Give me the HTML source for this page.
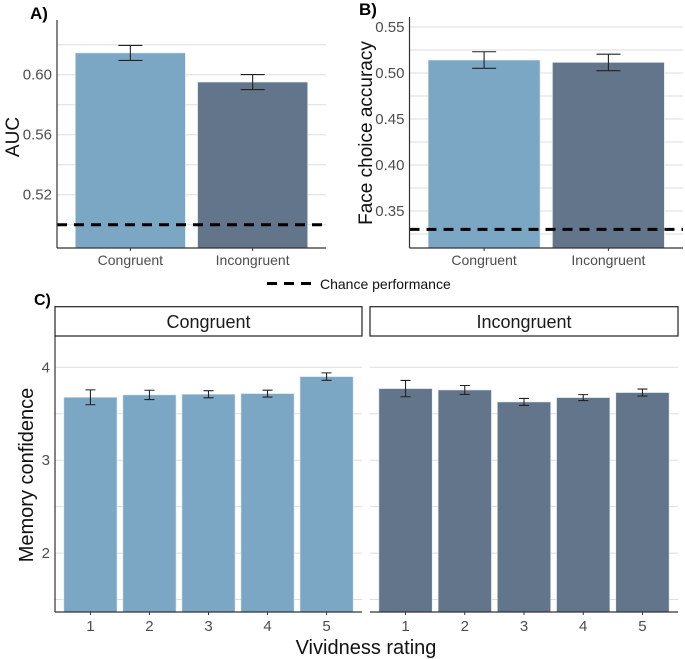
<!DOCTYPE html>
<html><head><meta charset="utf-8"><style>
body{margin:0;background:#fff;overflow:hidden;}
svg{display:block;font-family:"Liberation Sans",Arial,sans-serif;}
</style></head><body>
<svg id="fig" width="685" height="659"></svg>
<script>
// Panel A data
const aCats=["Congruent","Incongruent"];
const aVals=[0.6145,0.5951];
const aErr=[0.005,0.005];
const aTicks=[0.52,0.56,0.60];
const aChance=0.50;
// Panel B data
const bCats=["Congruent","Incongruent"];
const bVals=[0.5141,0.5115];
const bErr=[0.009,0.009];
const bTicks=[0.35,0.40,0.45,0.50,0.55];
const bChance=0.33;
// Panel C data
const cCats=["1","2","3","4","5"];
const cCongVals=[3.677,3.703,3.71,3.717,3.90];
const cCongErr=[0.08,0.05,0.038,0.037,0.04];
const cIncVals=[3.771,3.756,3.627,3.674,3.728];
const cIncErr=[0.088,0.048,0.038,0.032,0.038];
const cTicks=[2,3,4];

const NS="http://www.w3.org/2000/svg";
const svg=document.getElementById('fig');
const LB="#7ba7c4", DB="#63758a", GR="#dedede";
function el(t,a,p){const e=document.createElementNS(NS,t);for(const k in a)e.setAttribute(k,a[k]);(p||svg).appendChild(e);return e;}
function txt(s,a,p){const e=el('text',a,p);e.textContent=s;return e;}

function barPanel(o){
  const g=el('g',{});
  
  
  const y=v=>o.y0-(v-o.v0)*o.k;
  const n=o.cats.length, unit=(o.x1-o.xa)/(n+0.2);
  const xc=i=>o.xa+unit*(0.6+i);
  for(let v=o.minor0; v<=o.vmax+1e-9; v+=o.step){
    el('line',{x1:o.xa,x2:o.x1,y1:y(v),y2:y(v),stroke:GR,'stroke-width':1},g);
  }
  o.ticks.forEach(t=>{
    const tl=txt(t.toFixed(o.dec),{x:o.xa-5,y:y(t)+5,'text-anchor':'end','font-size':o.tfs||15,fill:'#4d4d4d'},g);
    
    
  });
  o.cats.forEach((c,i)=>{
    const w=unit*0.9, x=xc(i)-w/2, yt=y(o.vals[i]);
    const r=el('rect',{x:x,y:yt,width:w,height:o.yb-yt,fill:o.colors[i],stroke:'#dde8f0','stroke-width':0.6},g);
    
    
    const e1=y(o.vals[i]+o.err[i]), e2=y(o.vals[i]-o.err[i]), hw=o.cap;
    const eb=el('path',{d:`M${xc(i)-hw},${e1}H${xc(i)+hw}M${xc(i)},${e1}V${e2}M${xc(i)-hw},${e2}H${xc(i)+hw}`,stroke:'#222','stroke-width':1.1,fill:'none'},g);
    
    
    el('line',{x1:xc(i),x2:xc(i),y1:o.yb,y2:o.yb+3,stroke:'#333'},g);
    const xl=txt(c,{x:xc(i),y:o.yb+o.xoff,'text-anchor':'middle','font-size':o.xfs||14,fill:'#4d4d4d'},g);
    
    
  });
  if(o.chance!==undefined){
    const d=el('line',{x1:o.xa,x2:o.x1,y1:y(o.chance),y2:y(o.chance),stroke:'#000','stroke-width':3,'stroke-dasharray':'10 7'},g);
    
    
  }
  if(o.yaxis) el('line',{x1:o.xa,x2:o.xa,y1:o.ytop,y2:o.yb,stroke:'#333','stroke-width':1.2},g);
  el('line',{x1:o.xa,x2:o.x1,y1:o.yb,y2:o.yb,stroke:'#333','stroke-width':1.2},g);
  return g;
}
barPanel({name:'panel-a',cats:aCats,vals:aVals,err:aErr,ticks:aTicks,chance:aChance,colors:[LB,DB],
  xa:57,x1:326,ytop:20,yb:248,y0:74.7,v0:0.60,k:1500,minor0:0.50,step:0.02,vmax:0.63,
  dec:2,cap:12,xoff:17,yaxis:true});
barPanel({name:'panel-b',cats:bCats,vals:bVals,err:bErr,ticks:bTicks,chance:bChance,colors:[LB,DB],
  xa:409.5,x1:683,ytop:17,yb:248,y0:73,v0:0.50,k:920,minor0:0.325,step:0.025,vmax:0.556,
  dec:2,cap:12,xoff:17,yaxis:true});
barPanel({name:'panel-c-congruent',cats:cCats,vals:cCongVals,err:cCongErr,ticks:cTicks,colors:Array(5).fill(LB),
  xa:55,x1:362,ytop:336,yb:612,y0:367.3,v0:4,k:92.9,minor0:1.5,step:0.5,vmax:4.3,
  dec:0,cap:5,xoff:19,tfs:15,xfs:15,yaxis:true});
barPanel({name:'panel-c-incongruent',cats:cCats,vals:cIncVals,err:cIncErr,ticks:[],colors:Array(5).fill(DB),
  xa:370,x1:678,ytop:336,yb:612,y0:367.3,v0:4,k:92.9,minor0:1.5,step:0.5,vmax:4.3,
  dec:0,cap:5,xoff:19,tfs:15,xfs:15,yaxis:false});
</script>
<svg width="685" height="659" style="position:absolute;left:0;top:0" font-family="Liberation Sans, Arial, sans-serif">
  <text x="30" y="19" font-size="17" font-weight="bold">A)</text>
  <text x="359" y="15" font-size="17" font-weight="bold">B)</text>
  <text x="34" y="305" font-size="16" font-weight="bold">C)</text>
  <text transform="translate(19,137) rotate(-90)" text-anchor="middle" font-size="19" fill="#111">AUC</text>
  <text transform="translate(372,133) rotate(-90)" text-anchor="middle" font-size="19" fill="#111">Face choice accuracy</text>
  <text transform="translate(33,475) rotate(-90)" text-anchor="middle" font-size="20" fill="#111">Memory confidence</text>
  <text x="366" y="654" text-anchor="middle" font-size="20" fill="#111">Vividness rating</text>
  <g>
    <line x1="267" x2="311" y1="283.5" y2="283.5" stroke="#000" stroke-width="3" stroke-dasharray="10 7"/>
    <text x="320" y="289" font-size="14" fill="#111">Chance performance</text>
  </g>
  <g>
    <rect x="55" y="306.7" width="307" height="29.3" fill="#fff" stroke="#222" stroke-width="1.2"/>
    <text x="208.5" y="328" text-anchor="middle" font-size="18" fill="#1a1a1a">Congruent</text>
  </g>
  <g>
    <rect x="370" y="306.7" width="308" height="29.3" fill="#fff" stroke="#222" stroke-width="1.2"/>
    <text x="524" y="328" text-anchor="middle" font-size="18" fill="#1a1a1a">Incongruent</text>
  </g>
</svg>
</body></html>
